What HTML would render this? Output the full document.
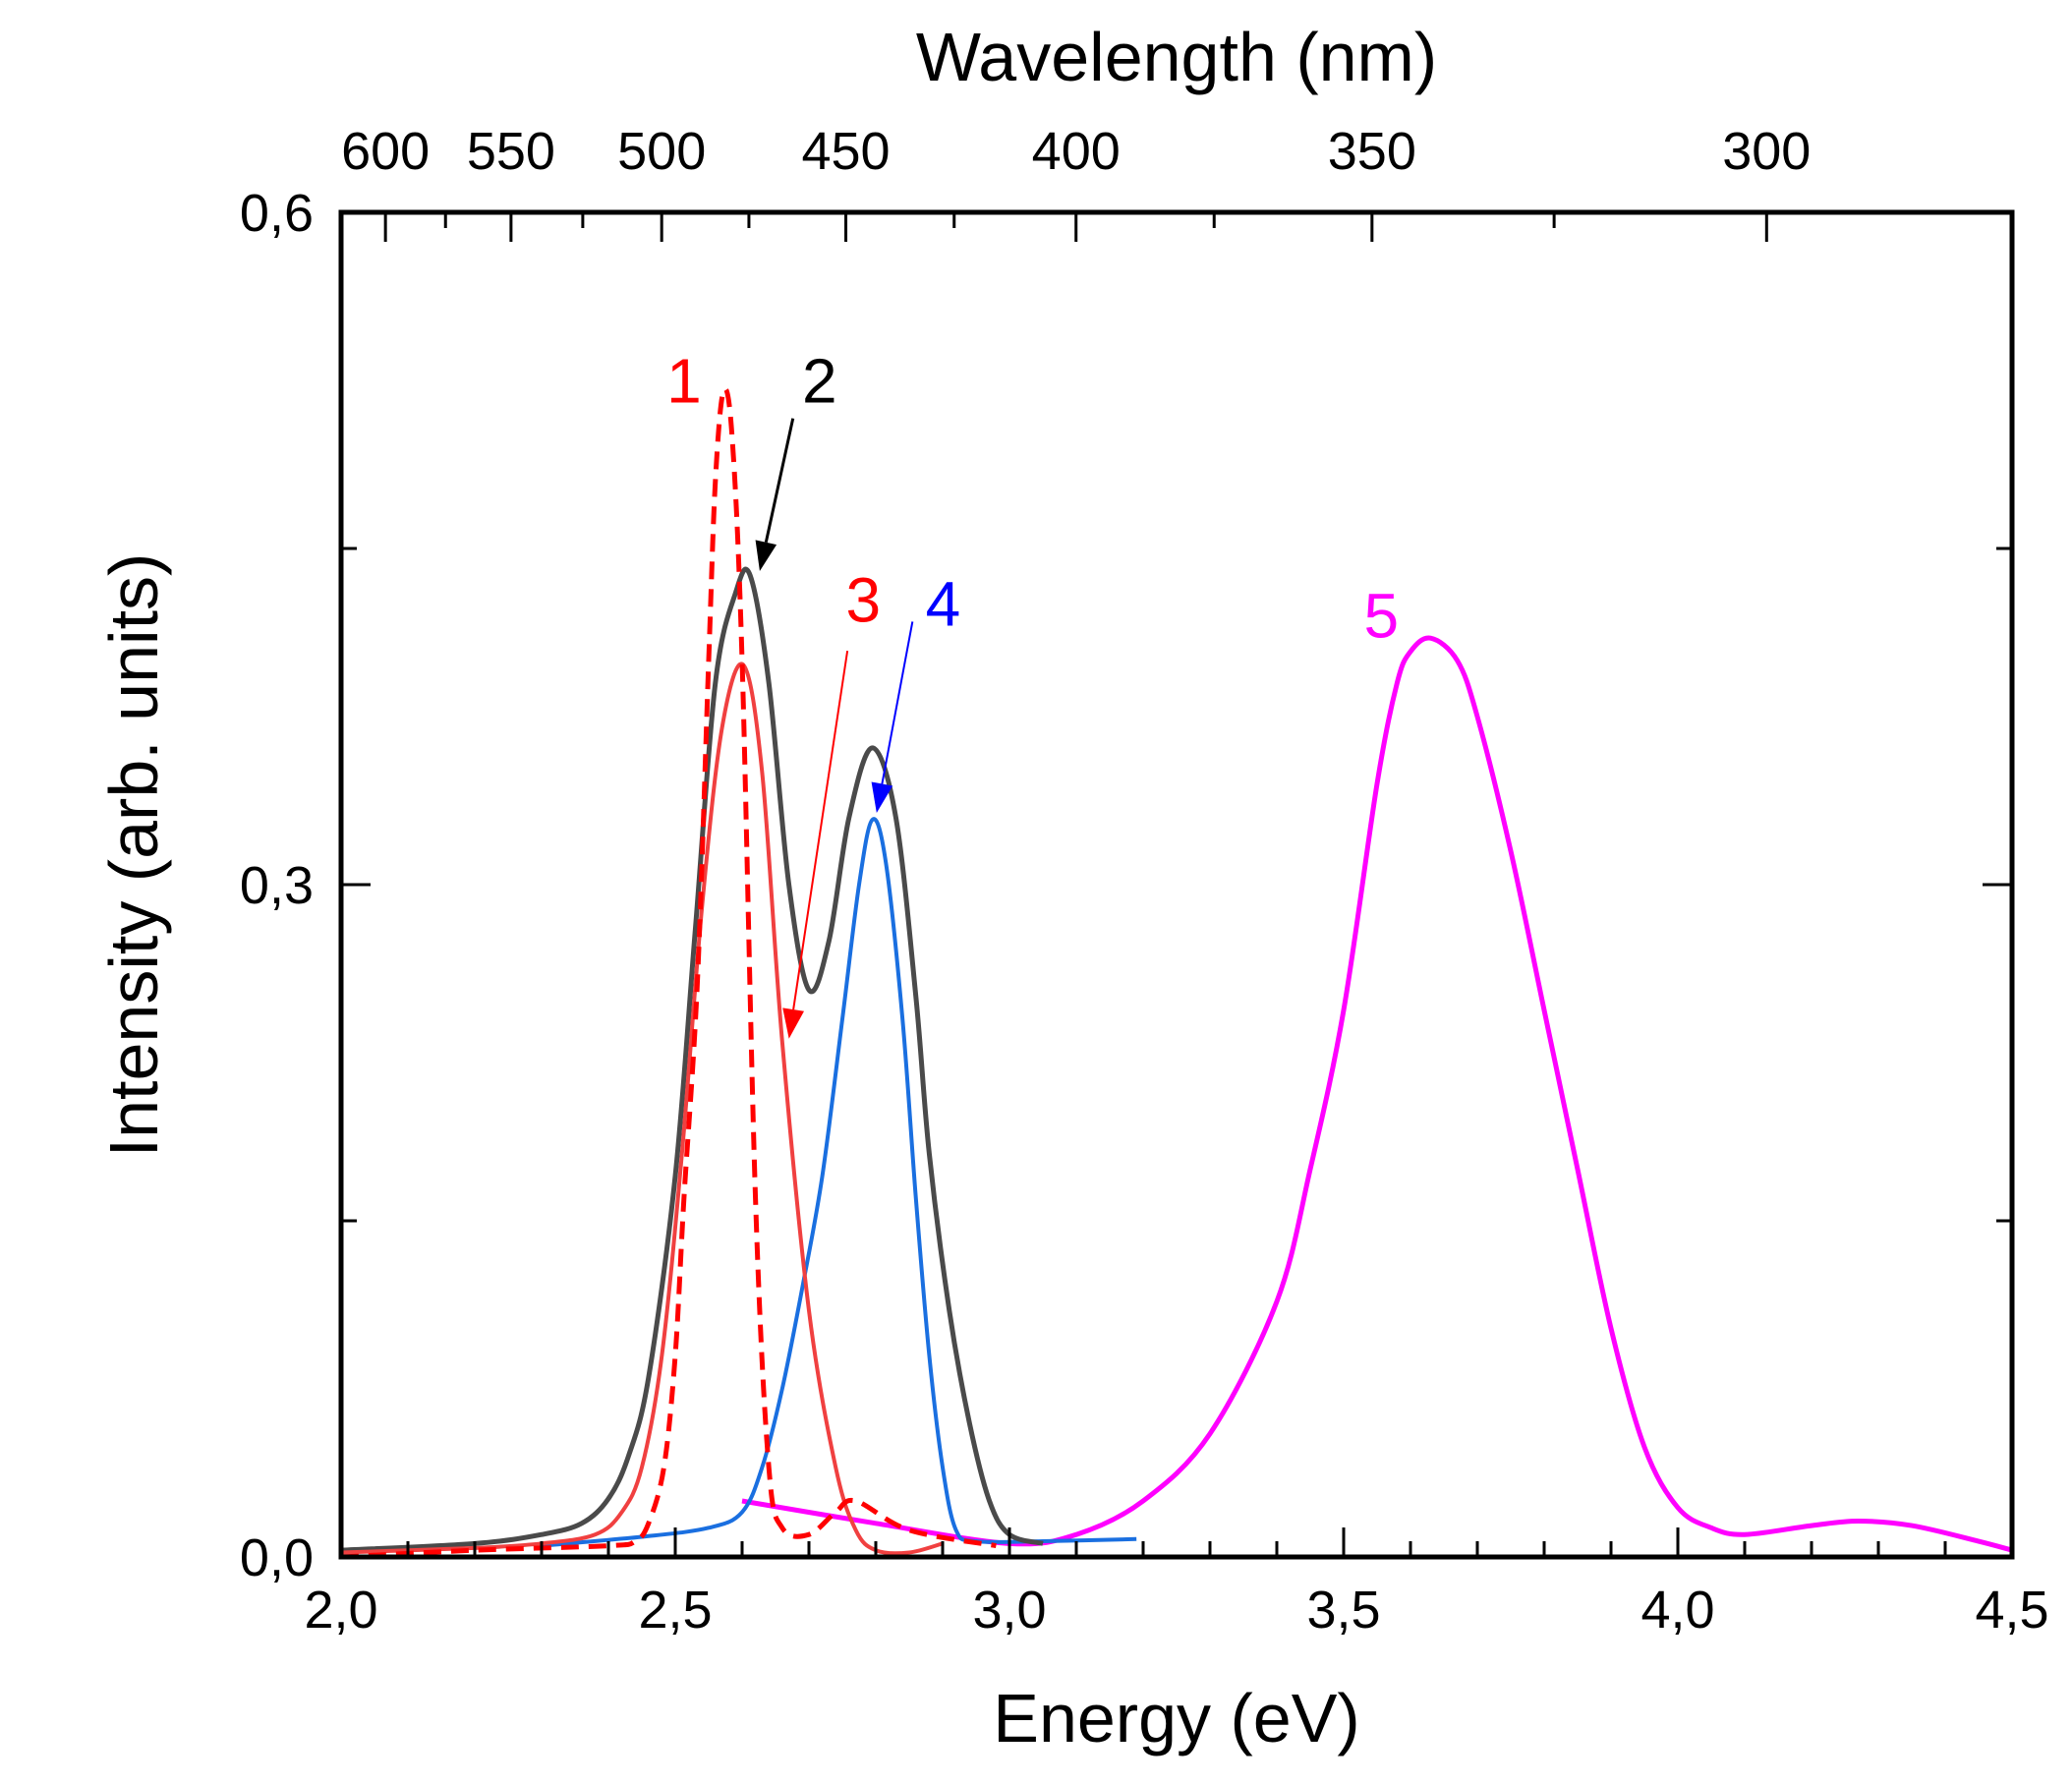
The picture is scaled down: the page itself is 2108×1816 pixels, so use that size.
<!DOCTYPE html>
<html><head><meta charset="utf-8"><style>
html,body{margin:0;padding:0;background:#fff;}
svg{display:block;font-family:"Liberation Sans",sans-serif;}
</style></head><body>
<svg id="chart" width="2108" height="1816" viewBox="0 0 2108 1816"></svg>
<script>
const energy1 = [2.0,2.2,2.4,2.44,2.46,2.483,2.5,2.513,2.533,2.55,2.56,2.572,2.585,2.6,2.62,2.64,2.66,2.7,2.74,2.77,2.85,2.98];
const series1 = [0.0,0.003,0.005,0.007,0.015,0.04,0.09,0.16,0.256,0.4,0.48,0.52,0.5,0.4,0.16,0.04,0.013,0.01,0.02,0.025,0.012,0.005];
const energy2 = [2.0,2.2,2.3,2.36,2.4,2.43,2.46,2.5,2.53,2.56,2.59,2.612,2.64,2.67,2.70,2.73,2.76,2.795,2.83,2.86,2.88,2.91,2.94,2.97,3.0,3.05];
const series2 = [0.003,0.006,0.01,0.015,0.026,0.045,0.08,0.17,0.28,0.39,0.43,0.438,0.39,0.30,0.253,0.275,0.33,0.361,0.33,0.25,0.18,0.11,0.06,0.025,0.01,0.006];
const energy3 = [2.0,2.2,2.3,2.38,2.42,2.45,2.48,2.51,2.54,2.57,2.602,2.63,2.66,2.70,2.74,2.77,2.80,2.85,2.9];
const series3 = [0.002,0.004,0.006,0.01,0.02,0.04,0.09,0.18,0.29,0.37,0.398,0.35,0.23,0.11,0.04,0.012,0.003,0.002,0.006];
const energy4 = [2.3,2.45,2.55,2.6,2.63,2.66,2.69,2.72,2.75,2.775,2.795,2.815,2.84,2.86,2.88,2.90,2.92,2.95,3.05,3.19];
const series4 = [0.005,0.009,0.013,0.02,0.04,0.075,0.12,0.17,0.24,0.30,0.329,0.31,0.24,0.16,0.09,0.04,0.012,0.007,0.007,0.008];
const energy5 = [2.6,2.8,3.0,3.1,3.2,3.3,3.4,3.45,3.5,3.55,3.58,3.6,3.63,3.67,3.7,3.75,3.8,3.85,3.9,3.95,4.0,4.05,4.1,4.2,4.27,4.35,4.45,4.5];
const series5 = [0.025,0.015,0.006,0.01,0.025,0.055,0.114,0.173,0.244,0.345,0.39,0.404,0.41,0.40,0.375,0.315,0.244,0.173,0.102,0.049,0.022,0.013,0.01,0.014,0.016,0.014,0.007,0.003];
const xTicks = ["2,0","2,5","3,0","3,5","4,0","4,5"];
const yTicks = ["0,0","0,3","0,6"];
const wlTicks = [600,550,500,450,400,350,300];

const L=347,R=2047,T=216,B=1584;
const sx=e=>L+(e-2.0)/2.5*(R-L);
const sy=v=>B-v/0.6*(B-T);
const svg=document.getElementById('chart');
const NS='http://www.w3.org/2000/svg';
function mk(tag,attrs,parent){const el=document.createElementNS(NS,tag);for(const k in attrs)el.setAttribute(k,attrs[k]);(parent||svg).appendChild(el);return el;}
function pathFrom(xs,ys){
  const p=xs.map((x,i)=>[sx(x),sy(ys[i])]);
  let d='M'+p[0][0]+','+p[0][1];
  for(let i=0;i<p.length-1;i++){
    const p0=p[Math.max(0,i-1)],p1=p[i],p2=p[i+1],p3=p[Math.min(p.length-1,i+2)];
    const c1=[p1[0]+(p2[0]-p0[0])/6,p1[1]+(p2[1]-p0[1])/6];
    const c2=[p2[0]-(p3[0]-p1[0])/6,p2[1]-(p3[1]-p1[1])/6];
    d+=' C'+c1+' '+c2+' '+p2;
  }
  return d;
}
const k=1.3513;
const s5=mk('path',{d:pathFrom(energy5,series5),fill:'none',stroke:'#ff00ff','stroke-width':5});


const s4=mk('path',{d:pathFrom(energy4,series4),fill:'none',stroke:'#1a6fe0','stroke-width':4});


const s2=mk('path',{d:pathFrom(energy2,series2),fill:'none',stroke:'#4a4a4a','stroke-width':5});


const s3=mk('path',{d:pathFrom(energy3,series3),fill:'none',stroke:'#f04040','stroke-width':4});


const s1=mk('path',{d:pathFrom(energy1,series1),fill:'none',stroke:'#ff0000','stroke-width':5,'stroke-dasharray':'18,10'});



const fr=mk('rect',{x:L,y:T,width:R-L,height:B-T,fill:'none',stroke:'#000','stroke-width':5});


for(let i=0;i<=25;i++){
  const e=2.0+i*0.1, x=sx(e), maj=i%5===0, len=maj?30:16;
  const t=mk('line',{x1:x,y1:B,x2:x,y2:B-len,stroke:'#000','stroke-width':3});
  
  
}
xTicks.forEach((lab,i)=>{
  const t=mk('text',{x:sx(2.0+i*0.5),y:B+72,'text-anchor':'middle','font-size':54});
  t.textContent=lab;
  
  
});
for(let i=0;i<=4;i++){
  const v=i*0.15,y=sy(v),maj=i%2===0,len=maj?30:16;
  const a=mk('line',{x1:L,y1:y,x2:L+len,y2:y,stroke:'#000','stroke-width':3});
  
  
  const b=mk('line',{x1:R,y1:y,x2:R-len,y2:y,stroke:'#000','stroke-width':3});
  
  
}
yTicks.forEach((lab,i)=>{
  const t=mk('text',{x:L-28,y:sy(i*0.3)+19,'text-anchor':'end','font-size':54});
  t.textContent=lab;
  
  
});
for(let w=600;w>=300;w-=25){
  const x=sx(1239.84/w), maj=w%50===0, len=maj?30:16;
  const t=mk('line',{x1:x,y1:T,x2:x,y2:T+len,stroke:'#000','stroke-width':3});
  
  
}
wlTicks.forEach(w=>{
  const t=mk('text',{x:sx(1239.84/w),y:T-44,'text-anchor':'middle','font-size':54});
  t.textContent=String(w);
  
  
});
const xt=mk('text',{x:(L+R)/2,y:1772,'text-anchor':'middle','font-size':70});
xt.textContent='Energy (eV)';


const tt=mk('text',{x:1197,y:82,'text-anchor':'middle','font-size':70});
tt.textContent='Wavelength (nm)';


const yt=mk('text',{x:0,y:0,'text-anchor':'middle','font-size':70,transform:'translate(160,870) rotate(-90)'});
yt.textContent='Intensity (arb. units)';


const labels=[['1',515,285,'#ff0000'],['2',617,285,'#000'],['3',650,450,'#ff0000'],['4',710,453,'#0000ff'],['5',1040,462,'#ff00ff']];
labels.forEach(l=>{
  const t=mk('text',{x:l[1]*k,y:(l[2]+18)*k,'text-anchor':'middle','font-size':64,fill:l[3]});
  t.textContent=l[0];
  
  
});
function arrow(x1,y1,x2,y2,c,w,name){
  x1*=k;y1*=k;x2*=k;y2*=k;
  const ang=Math.atan2(y2-y1,x2-x1),hl=30,hw=11;
  const bx=x2-hl*Math.cos(ang),by=y2-hl*Math.sin(ang);
  const g=mk('g',{});
  
  
  mk('line',{x1:x1,y1:y1,x2:bx,y2:by,stroke:c,'stroke-width':w},g);
  mk('polygon',{points:[x2,y2,bx-hw*Math.sin(ang),by+hw*Math.cos(ang),bx+hw*Math.sin(ang),by-hw*Math.cos(ang)].join(','),fill:c},g);
}
arrow(597,315,572,430,'#000',3,'arrow-2');
arrow(638,490,594,782,'#ff0000',2,'arrow-3');
arrow(687,468,660,612,'#0000ff',2,'arrow-4');
</script>
</body></html>
